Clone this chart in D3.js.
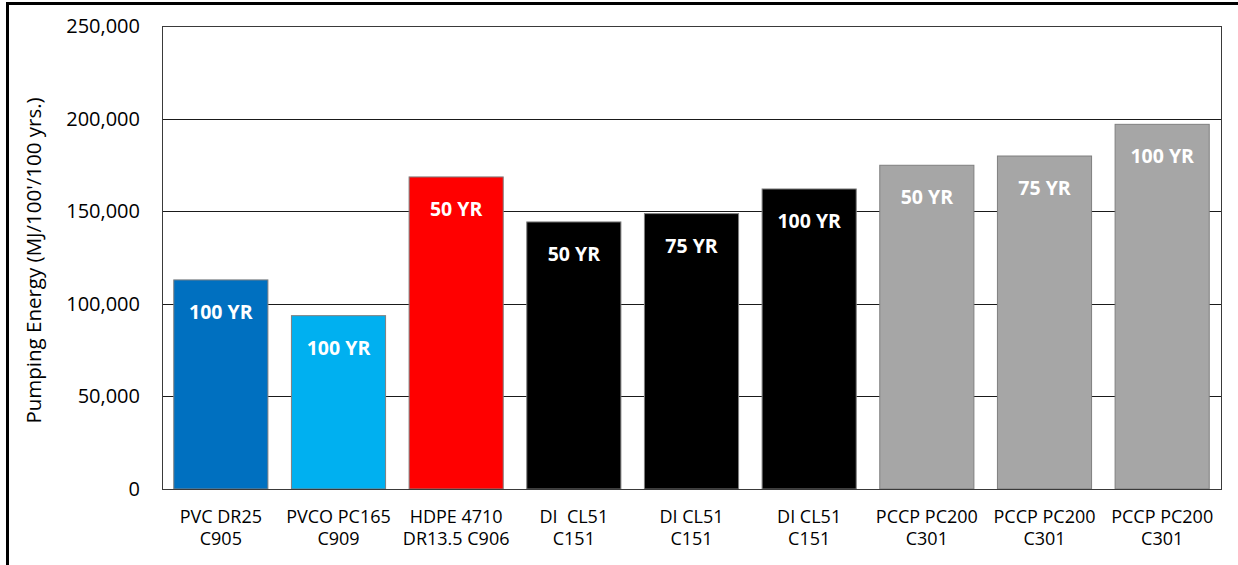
<!DOCTYPE html>
<html>
<head>
<meta charset="utf-8">
<script src="https://cdn.jsdelivr.net/npm/d3@7"></script>
<style>
  html, body { margin: 0; padding: 0; background: #fff; }
  svg { display: block; font-family: "Open Sans", "Noto Sans", sans-serif; }
</style>
</head>
<body>
<div id="chart"></div>
<script>
// ── Data ──
const categories = [
  ["PVC DR25", "C905"],
  ["PVCO PC165", "C909"],
  ["HDPE 4710", "DR13.5 C906"],
  ["DI  CL51", "C151"],
  ["DI CL51", "C151"],
  ["DI CL51", "C151"],
  ["PCCP PC200", "C301"],
  ["PCCP PC200", "C301"],
  ["PCCP PC200", "C301"],
];
const values = [112900, 93600, 168500, 144200, 148700, 162000, 174800, 179800, 196900];
const barLabels = ["100 YR", "100 YR", "50 YR", "50 YR", "75 YR", "100 YR", "50 YR", "75 YR", "100 YR"];
const barColors = ["#0070c0", "#00b0f0", "#ff0000", "#000000", "#000000", "#000000", "#a6a6a6", "#a6a6a6", "#a6a6a6"];
const yTicks = [0, 50000, 100000, 150000, 200000, 250000];
const yTitle = "Pumping Energy (MJ/100'/100 yrs.)";

const W = 1238, H = 565;
const plot = { left: 162, right: 1221, top: 26, bottom: 489 };

const svg = d3.select("#chart").append("svg")
  .attr("width", W).attr("height", H);

// Outer frame (runs off right and bottom edges)
svg.append("rect")
  .attr("x", 7.5).attr("y", 3.5)
  .attr("width", W + 10).attr("height", H + 10)
  .attr("fill", "none").attr("stroke", "#000").attr("stroke-width", 3);

const x = d3.scaleBand()
  .domain(d3.range(categories.length))
  .range([plot.left, plot.right])
  .paddingInner(0.2)
  .paddingOuter(0.1);

const y = d3.scaleLinear()
  .domain([0, 250000])
  .range([plot.bottom, plot.top]);

// ── Gridlines ──
svg.append("g")
  .selectAll("line")
  .data(yTicks.filter(d => d > 0))
  .join("line")
  .attr("x1", plot.left).attr("x2", plot.right)
  .attr("y1", d => Math.round(y(d)) + 0.5).attr("y2", d => Math.round(y(d)) + 0.5)
  .attr("stroke", "#1a1a1a").attr("stroke-width", 1);

// ── Bars ──
svg.append("g")
  .selectAll("rect")
  .data(values)
  .join("rect")
  .attr("x", (d, i) => x(i))
  .attr("y", d => y(d))
  .attr("width", x.bandwidth())
  .attr("height", d => y(0) - y(d))
  .attr("fill", (d, i) => barColors[i])
  .attr("stroke", "#7f7f7f").attr("stroke-width", 1);

// Labels inside bars
svg.append("g")
  .selectAll("text")
  .data(values)
  .join("text")
  .attr("x", (d, i) => x(i) + x.bandwidth() / 2)
  .attr("y", d => y(d) + 39)
  .attr("text-anchor", "middle")
  .attr("font-size", 19.5)
  .attr("font-weight", "bold")
  .attr("fill", "#fff")
  .text((d, i) => barLabels[i]);

// ── Plot frame ──
svg.append("rect")
  .attr("x", plot.left + 0.5).attr("y", plot.top + 0.5)
  .attr("width", plot.right - plot.left).attr("height", plot.bottom - plot.top)
  .attr("fill", "none").attr("stroke", "#3a3a3a").attr("stroke-width", 1);

// ── Y axis ──
const yAxis = svg.append("g")
  .attr("transform", `translate(${plot.left},0)`)
  .call(d3.axisLeft(y).tickValues(yTicks).tickFormat(d3.format(",")).tickSize(0).tickPadding(22));
yAxis.select(".domain").remove();
yAxis.selectAll("text")
  .attr("font-family", "'Open Sans', sans-serif")
  .attr("font-size", 20)
  .attr("fill", "#000");

// Y axis title
svg.append("text")
  .attr("transform", `translate(41, ${(plot.top + plot.bottom) / 2 + 3}) rotate(-90)`)
  .attr("text-anchor", "middle")
  .attr("font-size", 20.5)
  .attr("fill", "#000")
  .text(yTitle);

// ── X axis category labels ──
const xLab = svg.append("g")
  .selectAll("text")
  .data(categories)
  .join("text")
  .attr("x", (d, i) => x(i) + x.bandwidth() / 2)
  .attr("y", 523)
  .attr("text-anchor", "middle")
  .attr("font-size", 18)
  .attr("fill", "#000");
xLab.append("tspan")
  .attr("x", (d, i) => x(i) + x.bandwidth() / 2)
  .style("white-space", "pre")
  .text(d => d[0]);
xLab.append("tspan")
  .attr("x", (d, i) => x(i) + x.bandwidth() / 2)
  .attr("dy", 22)
  .text(d => d[1]);
</script>
</body>
</html>
